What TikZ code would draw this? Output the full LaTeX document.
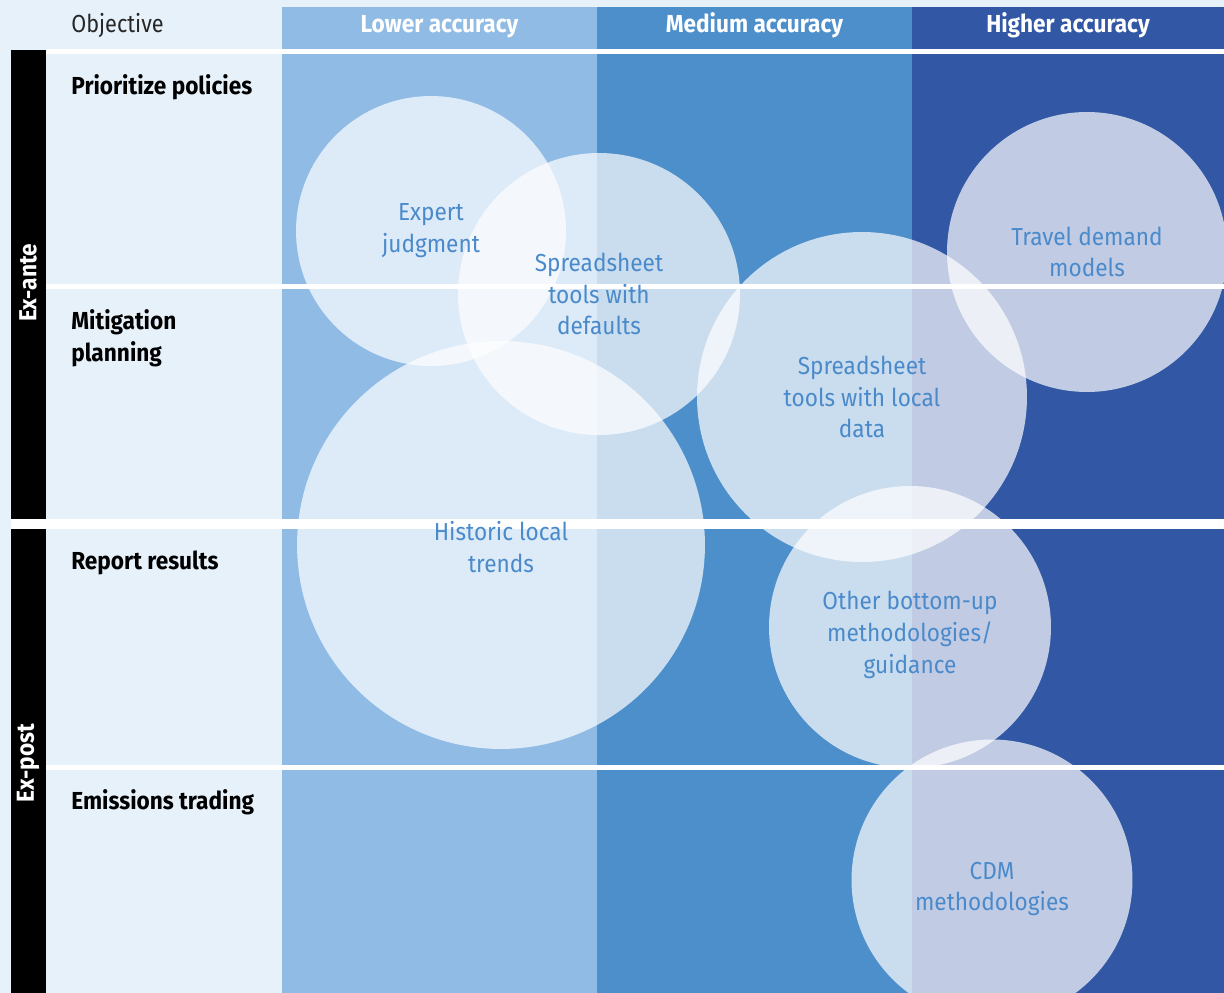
\documentclass[tikz,border=0pt]{standalone}
\usepackage{fontspec}
\setmainfont[FakeStretch=0.92]{Fira Sans}
\usepackage{tikz}
\definecolor{paleblue}{HTML}{E7F1FA}
\definecolor{lowcol}{HTML}{90BBE5}
\definecolor{medcol}{HTML}{4D8FCB}
\definecolor{highcol}{HTML}{3157A5}
\definecolor{bubbleblue}{HTML}{4A8ACB}

\begin{document}
\begin{tikzpicture}[x=0.02cm,y=-0.02cm,
  bubble/.style={circle,fill=white,fill opacity=0.7,inner sep=0pt},
  bubbletext/.style={text=bubbleblue,align=center,inner sep=0pt,font=\fontsize{14}{18.1}\selectfont},
  rowlabel/.style={anchor=base west,align=left,inner sep=0pt,font=\fontsize{14}{18.1}\selectfont\bfseries},
  colhead/.style={anchor=base,inner sep=0pt,text=white,font=\fontsize{14}{18.1}\selectfont\bfseries},
  sidelabel/.style={rotate=90,inner sep=0pt,text=white,font=\fontsize{14}{18.1}\selectfont\bfseries}]
\useasboundingbox (0,0) rectangle (1224,993);
\fill[paleblue] (0,0) rectangle (1224,993);
\fill[lowcol] (282,7) rectangle (597,993);
\fill[medcol] (597,7) rectangle (912,993);
\fill[highcol] (912,7) rectangle (1224,993);
\fill[black] (11,50) rectangle (46,519);
\fill[black] (11,529) rectangle (46,993);
\fill[white] (46,49) rectangle (1224,54);
\fill[white] (46,284) rectangle (1224,289);
\fill[white] (11,519) rectangle (1224,529);
\fill[white] (46,765) rectangle (1224,770);
\node[colhead,anchor=base west,text=black!85,font=\fontsize{14}{18.1}\selectfont\addfontfeature{FakeStretch=0.88}] (objective) at (71,33) {Objective};
\node[colhead] (lower) at (439.5,33) {Lower accuracy};
\node[colhead] (medium) at (754.5,33) {Medium accuracy};
\node[colhead] (higher) at (1068,33) {Higher accuracy};
\node[sidelabel] (exante) at (28,283) {Ex-ante};
\node[sidelabel] (expost) at (28,763) {Ex-post};
\node[rowlabel] (prioritize) at (71,95) {Prioritize policies};
\node[rowlabel] (mitigation) at (71,361) {Mitigation\\planning};
\node[rowlabel] (report) at (71,569) {Report results};
\node[rowlabel] (trading) at (71,809) {Emissions trading};
% circles first, then their texts on top
\node[bubble,minimum size=5.4cm] (expert) at (431,231) {};
\node[bubble,minimum size=5.64cm] (sheetdefault) at (599,294) {};
\node[bubble,minimum size=8.16cm] (historic) at (501,545) {};
\node[bubble,minimum size=6.6cm] (sheetlocal) at (862,397) {};
\node[bubble,minimum size=5.6cm] (travel) at (1087,252) {};
\node[bubble,minimum size=5.64cm] (bottomup) at (910,627) {};
\node[bubble,minimum size=5.62cm] (cdm) at (992,880) {};
\node[bubbletext] (experttext) at (expert) {Expert\\judgment};
\node[bubbletext] (sheetdefaulttext) at (sheetdefault) {Spreadsheet\\tools with\\defaults};
\node[bubbletext] (historictext) at (501,547) {Historic local\\trends};
\node[bubbletext] (sheetlocaltext) at (sheetlocal) {Spreadsheet\\tools with local\\data};
\node[bubbletext] (traveltext) at (travel) {Travel demand\\models};
\node[bubbletext] (bottomuptext) at (910,635) {Other bottom-up\\methodologies/\\guidance};
\node[bubbletext] (cdmtext) at (992,889) {CDM\\methodologies};
\end{tikzpicture}
\end{document}
